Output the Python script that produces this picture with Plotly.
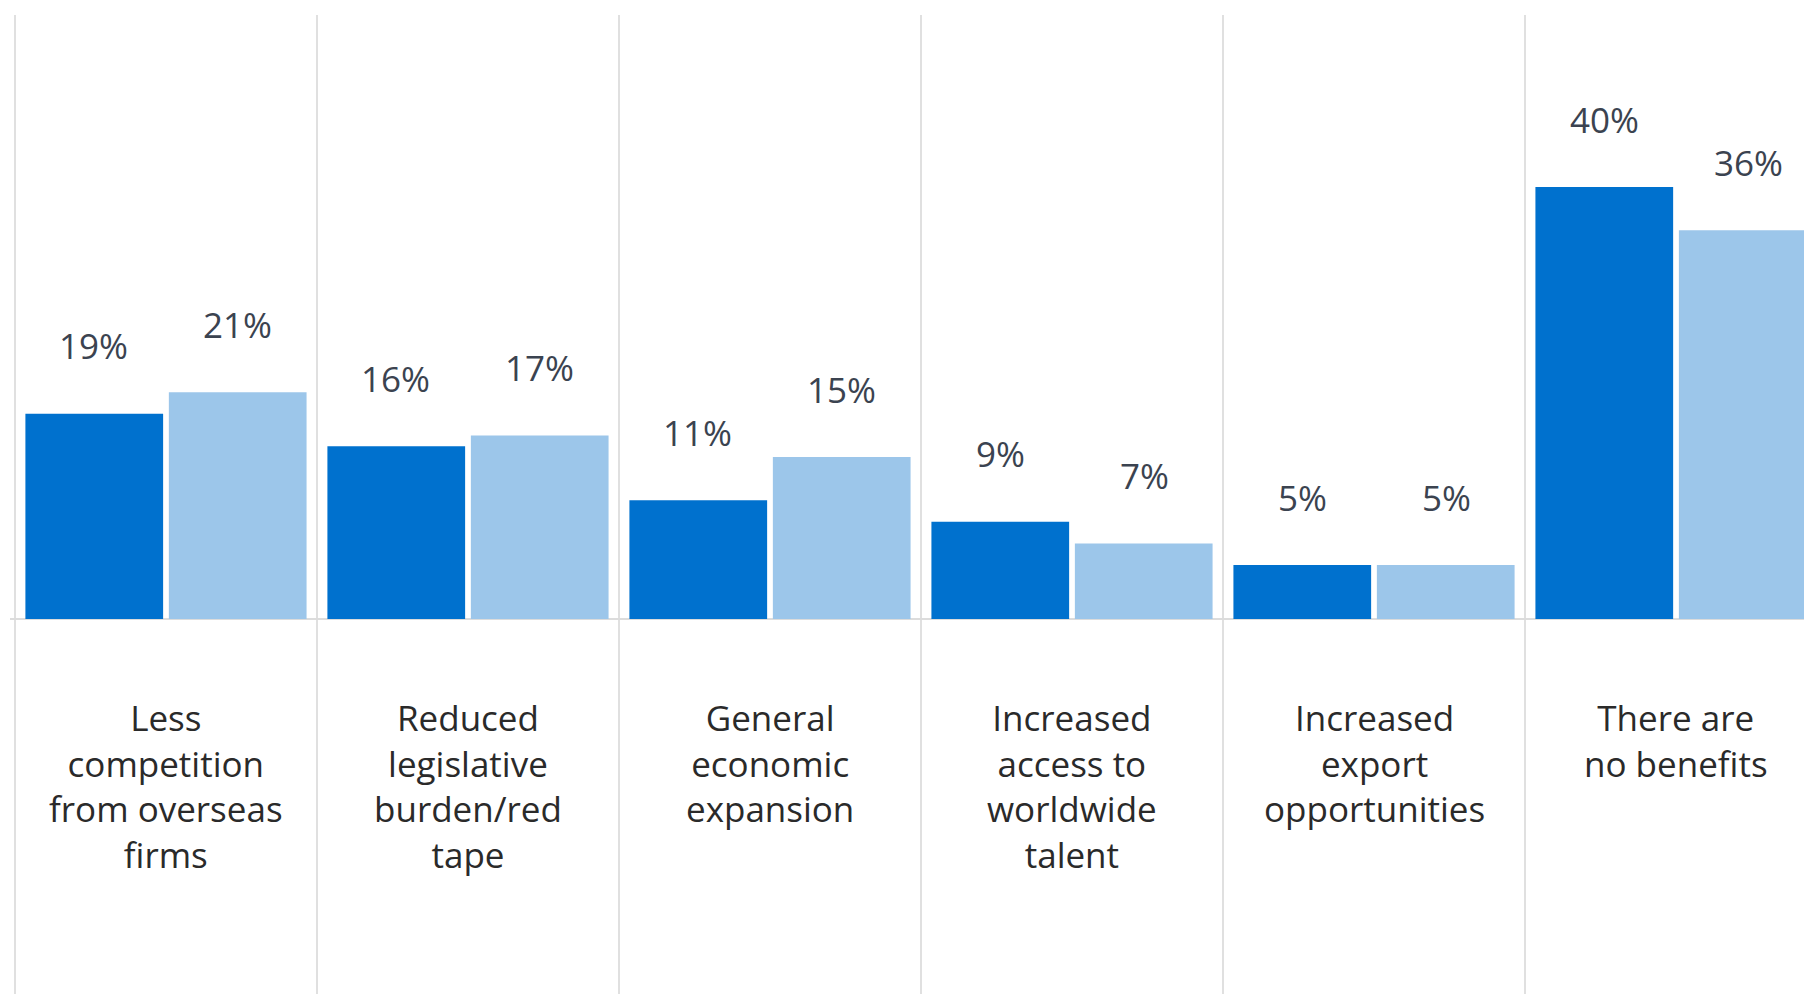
import plotly.graph_objects as go

categories = [
    "Less<br>competition<br>from overseas<br>firms",
    "Reduced<br>legislative<br>burden/red<br>tape",
    "General<br>economic<br>expansion",
    "Increased<br>access to<br>worldwide<br>talent",
    "Increased<br>export<br>opportunities",
    "There are<br>no benefits",
]
series_a = [19, 16, 11, 9, 5, 40]
series_b = [21, 17, 15, 7, 5, 36]

DARK = "#0071CE"
LIGHT = "#9CC6EA"
FONT = "Open Sans"

idx = list(range(len(categories)))

fig = go.Figure()
fig.add_trace(go.Bar(x=idx, y=series_a, marker=dict(color=DARK, line=dict(width=0)),
                     hoverinfo="skip", showlegend=False))
fig.add_trace(go.Bar(x=idx, y=series_b, marker=dict(color=LIGHT, line=dict(width=0)),
                     hoverinfo="skip", showlegend=False))

annotations = []
for i, (a, b) in enumerate(zip(series_a, series_b)):
    annotations.append(dict(x=i, y=a, xref="x", yref="y", text=f"{a}%", showarrow=False,
                            xshift=-72, yshift=68, yanchor="middle",
                            font=dict(family=FONT, size=35, color="#3b4350")))
    annotations.append(dict(x=i, y=b, xref="x", yref="y", text=f"{b}%", showarrow=False,
                            xshift=72, yshift=68, yanchor="middle",
                            font=dict(family=FONT, size=35, color="#3b4350")))
for i, c in enumerate(categories):
    annotations.append(dict(x=i, y=0.3085, xref="x", yref="paper", text=c, showarrow=False,
                            yanchor="top", xanchor="center", align="center",
                            font=dict(family=FONT, size=35, color="#2a2a2a")))

fig.update_layout(
    width=1804, height=986,
    margin=dict(l=2, r=0, t=7, b=0),
    paper_bgcolor="white", plot_bgcolor="white",
    barmode="group", bargap=0.05, bargroupgap=0.04,
    showlegend=False,
    annotations=annotations,
    xaxis=dict(type="linear", range=[-0.5165, 5.4503], showgrid=False,
               showticklabels=False, zeroline=False, showline=False, ticks=""),
    yaxis=dict(range=[-34.72, 55.93], showgrid=False, showticklabels=False,
               zeroline=True, zerolinecolor="#dcdcdc", zerolinewidth=1.5,
               showline=False, ticks=""),
)

# category boundary dividers
fig.update_xaxes(tickmode="array", tickvals=[i - 0.5 for i in range(len(categories) + 1)],
                 showgrid=True, gridcolor="#e0e0e0", gridwidth=1.5)

fig.write_html("out.html")
